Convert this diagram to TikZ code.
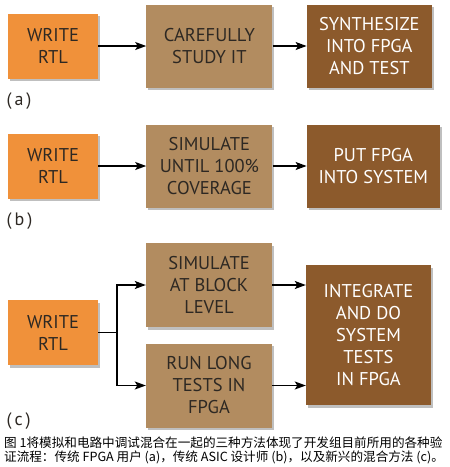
\documentclass[tikz,border=0pt]{standalone}
\usepackage{fontspec}
\setmainfont{PT Sans}
\newfontfamily\cjk{Noto Sans CJK SC}
\usepackage{tikz}
\usetikzlibrary{shapes.geometric, arrows, arrows.meta, calc, positioning, shadows}
\definecolor{rtlorange}{RGB}{240,145,58}
\definecolor{midbrown}{RGB}{178,140,96}
\definecolor{darkbrown}{RGB}{140,90,44}
\definecolor{textgray}{RGB}{45,40,35}
\tikzstyle{box} = [rectangle, align=center, inner sep=0pt, font=\fontsize{18.5}{22}\selectfont, drop shadow={shadow xshift=2pt, shadow yshift=-2.5pt, fill=black, opacity=0.25}]
\tikzstyle{write} = [box, fill=rtlorange, text=textgray, minimum width=90pt, minimum height=65pt]
\tikzstyle{check} = [box, fill=midbrown, text=textgray, minimum width=126pt, minimum height=83pt]
\tikzstyle{final} = [box, fill=darkbrown, text=white, minimum width=125pt, minimum height=83pt]
\tikzstyle{tag} = [anchor=west, text=textgray, font=\fontsize{18}{20}\selectfont]
\tikzstyle{arrow} = [line width=1.3pt, -{Stealth[length=11pt, width=8pt, inset=2.5pt]}]

\begin{document}
\begin{tikzpicture}[x=1pt, y=-1pt, node distance = 48pt, auto]
	\useasboundingbox (0,0) rectangle (450,467);
	% (a)
	\node (writeA) [write] at (53,46) {WRITE\\RTL};
	\node (studyA) [check, right=48pt of writeA] {CAREFULLY\\STUDY IT};
	\node (synthA) [final, right=34pt of studyA] {SYNTHESIZE\\INTO FPGA\\AND TEST};
	\draw [arrow] (writeA) -- (studyA);
	\draw [arrow] (studyA) -- (synthA);
	\node (tagA) [tag] at (3,101) {(\,a\,)};
	% (b)
	\node (writeB) [write] at (53,166) {WRITE\\RTL};
	\node (simB) [check, right=48pt of writeB] {SIMULATE\\UNTIL 100\%\\COVERAGE};
	\node (putB) [final, minimum width=133pt, right=34pt of simB] {PUT FPGA\\INTO SYSTEM};
	\draw [arrow] (writeB) -- (simB);
	\draw [arrow] (simB) -- (putB);
	\node (tagB) [tag] at (3,221) {(\,b\,)};
	% (c)
	\node (writeC) [write] at (53,332.5) {WRITE\\RTL};
	\node (blockC) [check, minimum height=84pt] at (209,285) {SIMULATE\\AT BLOCK\\LEVEL};
	\node (longC) [check, minimum height=84pt] at (209,385.5) {RUN LONG\\TESTS IN\\FPGA};
	\node (sysC) [final, minimum height=140pt] at (368.5,335) {INTEGRATE\\AND DO\\SYSTEM\\TESTS\\IN FPGA};
	\coordinate (fork) at (117,332.5);
	\draw [line width=1.3pt] (writeC.east) -- (fork);
	\draw [arrow] (fork) |- (blockC.west);
	\draw [arrow] (fork) |- (longC.west);
	\draw [arrow] (blockC.east) -- (blockC.east -| sysC.west);
	\draw [arrow] (longC.east) -- (longC.east -| sysC.west);
	\node (tagC) [tag] at (3,421) {(\,c\,)};
	% caption
	\node (capA) [anchor=west, inner sep=0pt, font=\cjk\fontsize{12.6}{14}\selectfont] at (4,443) {图 1将模拟和电路中调试混合在一起的三种方法体现了开发组目前所用的各种验};
	\node (capB) [anchor=west, inner sep=0pt, font=\cjk\fontsize{12.6}{14}\selectfont] at (4,457) {证流程：传统 FPGA 用户 (a)，传统 ASIC 设计师 (b)，以及新兴的混合方法 (c)。};
\end{tikzpicture}
\end{document}
